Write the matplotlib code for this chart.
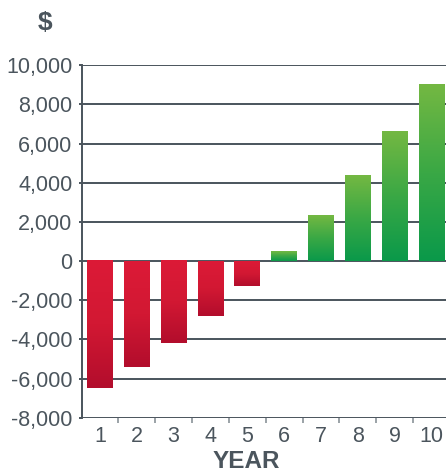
import matplotlib
matplotlib.use("Agg")
import matplotlib.pyplot as plt
import numpy as np
from matplotlib.colors import LinearSegmentedColormap

years = [1, 2, 3, 4, 5, 6, 7, 8, 9, 10]
values = [-6500, -5400, -4200, -2800, -1250, 500, 2300, 4350, 6600, 9000]
yticks = [-8000, -6000, -4000, -2000, 0, 2000, 4000, 6000, 8000, 10000]
ytick_labels = ["-8,000", "-6,000", "-4,000", "-2,000", "0", "2,000", "4,000", "6,000", "8,000", "10,000"]

W, H = 446, 471
fig = plt.figure(figsize=(W / 100, H / 100), dpi=100)
ax = fig.add_axes([81.5 / W, 1 - 417.7 / H, (450 - 81.5) / W, (417.7 - 65.3) / H])

txt = "#4b555d"
line = "#4a545c"
font = "Liberation Sans"

red_cmap = LinearSegmentedColormap.from_list("r", ["#dc1a37", "#d21833", "#b20d2c"])
green_cmap = LinearSegmentedColormap.from_list("g", ["#74b842", "#3aa845", "#0a994a"])

ax.set_xlim(0.5, 10.5)
ax.set_ylim(-8000, 10000)

bars = ax.bar(years, values, width=0.7, color="none", edgecolor="none", zorder=3)
grad = np.linspace(0, 1, 256).reshape(-1, 1)
for b, v in zip(bars, values):
    x0 = b.get_x()
    x1 = x0 + b.get_width()
    y0 = b.get_y()
    y1 = y0 + b.get_height()
    lo, hi = min(y0, y1), max(y0, y1)
    cmap = green_cmap if v > 0 else red_cmap
    ax.imshow(grad, cmap=cmap, extent=[x0, x1, lo, hi], origin="upper",
              aspect="auto", zorder=3, interpolation="bilinear")

for yv in yticks:
    ax.axhline(yv, color=line, lw=1.4, zorder=2)

for s in ["top", "right", "bottom"]:
    ax.spines[s].set_visible(False)
ax.spines["left"].set_color(line)
ax.spines["left"].set_linewidth(1.4)

ax.set_yticks(yticks)
ax.set_yticklabels(ytick_labels, fontfamily=font, fontsize=15.5, color=txt)
ax.tick_params(axis="y", length=2.5, width=1.4, color=line, pad=4)

ax.set_xticks(years)
ax.set_xticklabels([str(y) for y in years], fontfamily=font, fontsize=15.5, color=txt)
ax.set_xticks([y + 0.5 for y in years[:-1]], minor=True)
ax.tick_params(axis="x", which="major", length=0, pad=6)
ax.tick_params(axis="x", which="minor", length=3.5, width=1.2, color="#8a9298")

fig.text(45 / W, 1 - 23 / H, "$", fontfamily=font, fontweight="bold", fontsize=19,
         color=txt, ha="center", va="center")
fig.text(246 / W, 1 - 461 / H, "YEAR", fontfamily=font, fontweight="bold", fontsize=17.5,
         color=txt, ha="center", va="center")

fig.savefig("out.png", dpi=100)
